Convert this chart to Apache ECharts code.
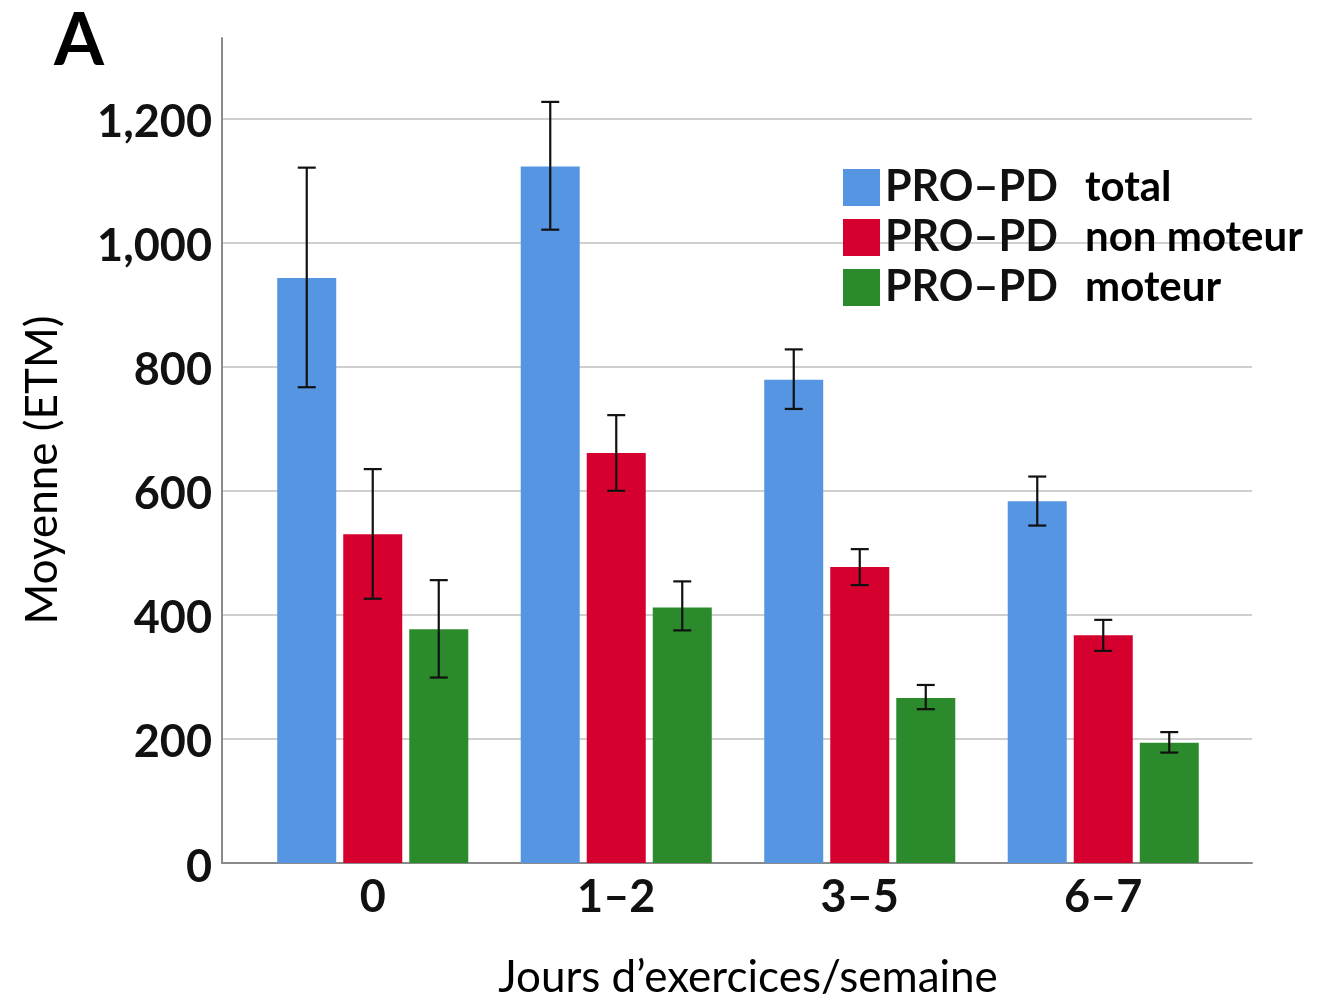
<!DOCTYPE html>
<html>
<head>
<meta charset="utf-8">
<script src="https://cdn.jsdelivr.net/npm/echarts@6/dist/echarts.min.js"></script>
<style>html,body{margin:0;padding:0;background:#fff}#c{width:1342px;height:1001px}</style>
</head>
<body>
<div id="c"></div>
<script>
var categories = ['0', '1–2', '3–5', '6–7'];
var seriesNames = ['PRO–PD total', 'PRO–PD non moteur', 'PRO–PD moteur'];
var totalMean = [943, 1123, 779, 583];
var totalLow = [767, 1021, 732, 544];
var totalHigh = [1121, 1227, 828, 623];
var nonMotorMean = [530, 661, 477, 367];
var nonMotorLow = [426, 600, 448, 342];
var nonMotorHigh = [635, 722, 506, 392];
var motorMean = [377, 412, 266, 194];
var motorLow = [299, 375, 248, 178];
var motorHigh = [456, 454, 287, 211];
var yTicks = [0, 200, 400, 600, 800, 1000, 1200];

var colors = ['#5595E2', '#D6002F', '#2B8A2B'];
var means = [totalMean, nonMotorMean, motorMean];
var lows = [totalLow, nonMotorLow, motorLow];
var highs = [totalHigh, nonMotorHigh, motorHigh];

var FONT = 'Lato';
var BAR_W = 59, BAR_GAP = 7;

var chart = echarts.init(document.getElementById('c'), null, {renderer: 'canvas'});

function errSeries(i) {
  var data = categories.map(function (c, k) { return [k, lows[i][k], highs[i][k]]; });
  return {
    type: 'custom',
    xAxisIndex: 1, yAxisIndex: 1,
    z: 10,
    silent: true,
    data: data,
    renderItem: function (params, api) {
      var k = api.value(0);
      var lo = api.coord([k, api.value(1)]);
      var hi = api.coord([k, api.value(2)]);
      var x = lo[0] + (i - 1) * (BAR_W + BAR_GAP);
      var cap = 9;
      var st = {stroke: '#111', lineWidth: 2.2};
      return {
        type: 'group',
        children: [
          {type: 'line', shape: {x1: x, y1: hi[1], x2: x, y2: lo[1]}, style: st},
          {type: 'line', shape: {x1: x - cap, y1: hi[1], x2: x + cap, y2: hi[1]}, style: st},
          {type: 'line', shape: {x1: x - cap, y1: lo[1], x2: x + cap, y2: lo[1]}, style: st}
        ]
      };
    }
  };
}

var barSeries = seriesNames.map(function (n, i) {
  return {
    name: n,
    type: 'bar',
    xAxisIndex: 1, yAxisIndex: 1,
    barWidth: BAR_W,
    barGap: (BAR_GAP / BAR_W * 100).toFixed(1) + '%',
    itemStyle: {color: colors[i]},
    data: means[i]
  };
});

var option = {
  animation: false,
  backgroundColor: '#fff',
  grid: [
    {left: 222, right: 90, top: 38, bottom: 138},
    {left: 251, width: 974, top: 38, bottom: 138}
  ],
  xAxis: [
    {
      type: 'category', gridIndex: 0, data: categories,
      axisLine: {lineStyle: {color: '#8a8a8a', width: 2}},
      axisTick: {show: false}, axisLabel: {show: false}, splitLine: {show: false}
    },
    {
      type: 'category', gridIndex: 1, data: categories,
      axisLine: {show: false}, axisTick: {show: false},
      axisLabel: {fontFamily: FONT, fontWeight: 'bold', fontSize: 45, color: '#111', margin: 12}
    }
  ],
  yAxis: [
    {
      type: 'value', gridIndex: 0, min: 0, max: 1330, interval: 200,
      axisLine: {show: true, lineStyle: {color: '#8a8a8a', width: 2}},
      axisTick: {show: false},
      splitLine: {show: true, showMinLine: false, showMaxLine: false, lineStyle: {color: '#cfcfcf', width: 2}},
      axisLabel: {
        fontFamily: FONT, fontWeight: 'bold', fontSize: 45, color: '#111', margin: 10,
        showMaxLabel: false,
        formatter: function (v) {
          return yTicks.indexOf(v) >= 0 ? '{v|' + v.toLocaleString('en-US') + '}' : '';
        },
        rich: {v: {fontFamily: FONT, fontWeight: 'bold', fontSize: 45, color: '#111', padding: [8, 0, 0, 0]}}
      }
    },
    {
      type: 'value', gridIndex: 1, min: 0, max: 1330, interval: 200,
      show: false, splitLine: {show: false}
    }
  ],
  legend: {
    orient: 'vertical', left: 843, top: 166, padding: 0,
    itemWidth: 37, itemHeight: 37, itemGap: 7,
    icon: 'rect',
    data: seriesNames,
    formatter: function (name) {
      var rest = name.replace('PRO–PD ', '');
      return '{a|PRO–PD}{b|' + rest + '}';
    },
    textStyle: {
      padding: [0, 0, 0, 0],
      rich: {
        a: {fontFamily: FONT, fontWeight: 'bold', fontSize: 43, color: '#111', width: 200, height: 37, lineHeight: 37},
        b: {fontFamily: FONT, fontWeight: 'bold', fontSize: 42, color: '#000', height: 37, lineHeight: 37}
      }
    }
  },
  graphic: [
    {type: 'text', left: 54, top: 6, style: {text: 'A', font: 'bold 72px ' + FONT, fill: '#000'}},
    {type: 'text', x: 43, y: 470, rotation: Math.PI / 2, style: {text: 'Moyenne (ETM)', font: '44px ' + FONT, fill: '#000', align: 'center', verticalAlign: 'middle'}},
    {type: 'text', x: 748, y: 978, style: {text: 'Jours d’exercices/semaine', font: '44px ' + FONT, fill: '#000', align: 'center', verticalAlign: 'middle'}}
  ],
  series: barSeries.concat([errSeries(0), errSeries(1), errSeries(2)])
};
chart.setOption(option);
</script>
</body>
</html>
